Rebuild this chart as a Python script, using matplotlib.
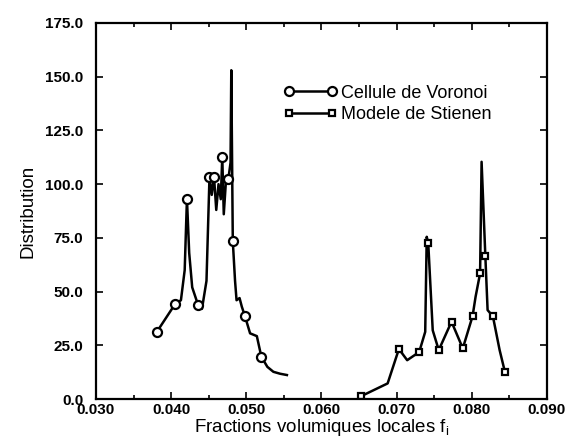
import matplotlib
matplotlib.use("Agg")
import matplotlib.pyplot as plt
from matplotlib.ticker import MultipleLocator, FormatStrFormatter

plt.rcParams['font.family'] = ['Liberation Sans', 'DejaVu Sans']

######################## Cellule de Voronoi ########################
f_vor = [0.0381, 0.0405, 0.0413, 0.0418, 0.0421, 0.0424, 0.0428, 0.0436, 0.0441,
         0.0447, 0.0451, 0.0454, 0.0457, 0.0460, 0.0463, 0.0466, 0.0468, 0.0470,
         0.0473, 0.0476, 0.0479, 0.0480, 0.0482, 0.0485, 0.0487, 0.0491, 0.0494,
         0.0498, 0.0505, 0.0514, 0.0520, 0.0528, 0.0536, 0.0545, 0.0554]
d_vor = [31.3, 44.1, 46.0, 60.0, 93.2, 68.0, 52.0, 43.6, 42.0,
         55.0, 103.5, 95.0, 103.5, 88.0, 100.0, 93.0, 112.7, 86.0,
         102.0, 102.2, 110.0, 153.0, 73.5, 55.0, 46.0, 47.0, 43.0,
         38.8, 30.6, 29.3, 19.7, 15.0, 12.7, 11.8, 11.2]
mk_vor = [0, 1, 4, 7, 10, 12, 16, 19, 22, 27, 30]

######################## Modele de Stienen #########################
f_sti = [0.0653, 0.0688, 0.0703, 0.0714, 0.0730, 0.0738, 0.0740, 0.0742, 0.0748,
         0.0756, 0.0773, 0.0788, 0.0801, 0.0805, 0.0811, 0.0813, 0.0818, 0.0821,
         0.0828, 0.0837, 0.0844]
d_sti = [1.4, 7.3, 23.3, 18.1, 21.9, 31.3, 75.5, 72.7, 32.0,
         22.8, 36.0, 23.6, 38.6, 47.6, 58.5, 110.4, 66.5, 41.4,
         38.6, 22.8, 12.7]
mk_sti = [0, 2, 4, 7, 9, 10, 11, 12, 14, 16, 18, 20]

############################ Plotting ##############################
fig = plt.figure(figsize=(5.68, 4.41), dpi=100)
ax = fig.add_axes([0.169, 0.095, 0.794, 0.853])

ax.plot(f_vor, d_vor, color='black', lw=1.8, marker='o', ms=6.5, mfc='white',
        mec='black', mew=1.6, markevery=mk_vor, label='Cellule de Voronoi')
ax.plot(f_sti, d_sti, color='black', lw=1.8, marker='s', ms=5, mfc='white',
        mec='black', mew=1.6, markevery=mk_sti, label='Modele de Stienen')

ax.set_xlim(0.030, 0.090)
ax.set_ylim(0.0, 175.0)
ax.xaxis.set_major_locator(MultipleLocator(0.010))
ax.xaxis.set_minor_locator(MultipleLocator(0.005))
ax.yaxis.set_major_locator(MultipleLocator(25.0))
ax.xaxis.set_major_formatter(FormatStrFormatter('%.3f'))
ax.yaxis.set_major_formatter(FormatStrFormatter('%.1f'))
ax.tick_params(which='both', direction='in', top=True, right=True, width=1.2)
ax.tick_params(which='major', length=5, labelsize=11)
ax.tick_params(axis='y', pad=9)
ax.tick_params(axis='x', pad=3)
ax.tick_params(which='minor', length=3)
for lab in ax.get_xticklabels() + ax.get_yticklabels():
    lab.set_fontweight('bold')
for s in ax.spines.values():
    s.set_linewidth(1.6)

ax.set_xlabel(r"Fractions volumiques locales f$_\mathregular{i}$", fontsize=13.5, labelpad=0)
ax.set_ylabel("Distribution", fontsize=13.5, labelpad=6)

ax.legend(loc='upper left', bbox_to_anchor=(0.40, 0.855), frameon=False,
          numpoints=2, fontsize=13, handlelength=3.0, handletextpad=0.2,
          labelspacing=0.25, borderaxespad=0)

fig.savefig("out.png", dpi=100)
